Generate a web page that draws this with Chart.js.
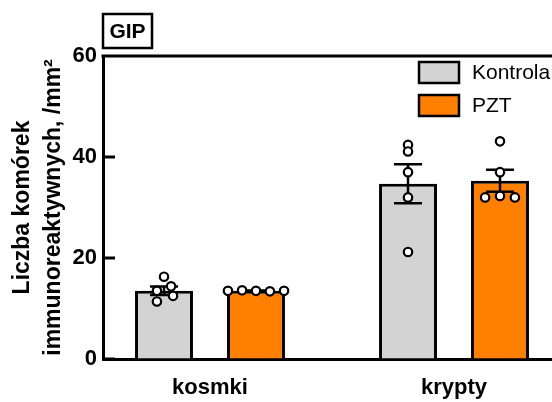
<!DOCTYPE html>
<html>
<head>
<meta charset="utf-8">
<script src="https://cdn.jsdelivr.net/npm/chart.js@4"></script>
<style>
  html, body { margin: 0; padding: 0; background: #fff; overflow: hidden; }
  canvas { display: block; }
</style>
</head>
<body>
<canvas id="chart" width="552" height="402"></canvas>
<script>
// dane
const categories = ["kosmki", "krypty"];
const groupLabels = ["Kontrola", "PZT"];
const meanKontrola = [13.5, 34.7];
const meanPZT = [13.5, 35.3];
const semKontrola = [0.85, 3.85];
const semPZT = [0.05, 2.2];
const pointsKontrola = [
  [16.3, 14.4, 13.5, 12.5, 11.4],
  [42.4, 41.1, 37.0, 32.0, 21.2],
];
const pointsPZT = [
  [13.5, 13.6, 13.5, 13.4, 13.5],
  [43.1, 37.0, 32.0, 32.3, 32.0],
];
const yTicks = [0, 20, 40, 60];
const yTitle = ["Liczba komórek", "immunoreaktywnych, /mm²"];
const panelLabel = "GIP";

// rozrzut punktów w poziomie (ułamek szerokości kategorii) - tylko wygląd
const jitterKontrola = [
  [0, 0.029, -0.029, 0.037, -0.029],
  [0, 0, 0, 0, 0],
];
const jitterPZT = [
  [-0.115, -0.057, 0, 0.057, 0.115],
  [0, 0, -0.061, 0, 0.061],
];

const CAT_PCT = 0.754;
const BAR_PCT = 0.63;
const colors = ["#d3d3d3", "#ff7f00"];
const FONT = "'Liberation Sans', Arial, sans-serif";

function barData(means) {
  return means.map((m, i) => ({ x: i, y: m }));
}

function pointData(points, jitter, dsIndex) {
  let out = [];
  points.forEach((vals, cat) => {
    let center = cat + (dsIndex - 0.5) * CAT_PCT / 2;
    vals.forEach((v, k) => out.push({ x: center + jitter[cat][k], y: v }));
  });
  return out;
}

const semByDataset = [semKontrola, semPZT];
const meanByDataset = [meanKontrola, meanPZT];

// słupki błędu (SEM)
const errorBars = {
  id: "errorBars",
  afterDatasetDraw(chart, args) {
    if (args.meta.type !== "bar") return;
    const ctx = chart.ctx;
    const y = chart.scales.y;
    const i = args.index;
    ctx.save();
    ctx.strokeStyle = "#000";
    ctx.lineWidth = 2.5;
    args.meta.data.forEach((el, j) => {
      const m = meanByDataset[i][j], s = semByDataset[i][j];
      const top = y.getPixelForValue(m + s);
      const bot = y.getPixelForValue(m - s);
      ctx.beginPath();
      ctx.moveTo(el.x, top); ctx.lineTo(el.x, bot);
      ctx.moveTo(el.x - 14, top); ctx.lineTo(el.x + 14, top);
      ctx.moveTo(el.x - 14, bot); ctx.lineTo(el.x + 14, bot);
      ctx.stroke();
    });
    ctx.restore();
  },
};

// ramka, znaczniki osi, legenda, etykieta panelu
const decorations = {
  id: "decorations",
  afterDraw(chart) {
    const ctx = chart.ctx;
    const area = chart.chartArea;
    const y = chart.scales.y;
    ctx.save();
    ctx.strokeStyle = "#000";
    ctx.lineWidth = 3;
    ctx.beginPath();
    ctx.moveTo(area.left - 1.5, area.top);
    ctx.lineTo(area.right, area.top);
    yTicks.forEach((t) => {
      const py = y.getPixelForValue(t);
      ctx.moveTo(area.left, py);
      ctx.lineTo(area.left + 12, py);
    });
    ctx.stroke();

    // legenda
    ctx.textBaseline = "middle";
    ctx.textAlign = "left";
    ctx.font = "21px " + FONT;
    chart.data.datasets.forEach((ds, i) => {
      if (ds.type !== "bar") return;
      const top = 62 + i * 33;
      ctx.fillStyle = ds.backgroundColor;
      ctx.fillRect(419, top, 40, 21);
      ctx.lineWidth = 2.5;
      ctx.strokeRect(419, top, 40, 21);
      ctx.fillStyle = "#000";
      ctx.fillText(ds.label, 472, top + 11);
    });

    // GIP
    ctx.lineWidth = 2.5;
    ctx.strokeRect(103, 14, 49, 34);
    ctx.font = "bold 21px " + FONT;
    ctx.textAlign = "center";
    ctx.fillText(panelLabel, 127.5, 32);
    ctx.restore();
  },
};

new Chart(document.getElementById("chart"), {
  data: {
    datasets: [
      {
        type: "bar",
        label: groupLabels[0],
        data: barData(meanKontrola),
        backgroundColor: colors[0],
        borderColor: "#000",
        borderWidth: 3,
        borderSkipped: "start",
        categoryPercentage: CAT_PCT,
        barPercentage: BAR_PCT,
        order: 1,
      },
      {
        type: "bar",
        label: groupLabels[1],
        data: barData(meanPZT),
        backgroundColor: colors[1],
        borderColor: "#000",
        borderWidth: 3,
        borderSkipped: "start",
        categoryPercentage: CAT_PCT,
        barPercentage: BAR_PCT,
        order: 1,
      },
      {
        type: "scatter",
        label: "pkt " + groupLabels[0],
        data: pointData(pointsKontrola, jitterKontrola, 0),
        backgroundColor: "#fff",
        borderColor: "#000",
        borderWidth: 2.2,
        pointRadius: 4.2,
        order: 0,
      },
      {
        type: "scatter",
        label: "pkt " + groupLabels[1],
        data: pointData(pointsPZT, jitterPZT, 1),
        backgroundColor: "#fff",
        borderColor: "#000",
        borderWidth: 2.2,
        pointRadius: 4.2,
        order: 0,
      },
    ],
  },
  options: {
    responsive: false,
    animation: false,
    events: [],
    layout: { autoPadding: false, padding: { top: 56, right: 0, bottom: 0, left: 0 } },
    plugins: {
      legend: { display: false },
      tooltip: { enabled: false },
    },
    scales: {
      x: {
        type: "linear",
        min: -0.4385,
        max: 1.4016,
        offset: false,
        bounds: "data",
        afterBuildTicks: (s) => { s.ticks = categories.map((c, i) => ({ value: i })); },
        afterFit: (s) => { s.height = 43; },
        grid: { offset: false, drawOnChartArea: false, drawTicks: false, tickLength: 0 },
        border: { display: true, color: "#000", width: 3 },
        ticks: {
          autoSkip: false,
          maxRotation: 0,
          padding: 16,
          color: "#000",
          font: { family: FONT, size: 22, weight: "bold" },
          callback: (v) => categories[v],
        },
      },
      y: {
        min: 0,
        max: 60,
        afterBuildTicks: (s) => { s.ticks = yTicks.map((v) => ({ value: v })); },
        afterFit: (s) => { s.width = 103; },
        grid: { drawOnChartArea: false, drawTicks: false, tickLength: 0 },
        border: { display: true, color: "#000", width: 3 },
        ticks: {
          padding: 6,
          color: "#000",
          font: { family: FONT, size: 22, weight: "bold" },
        },
        title: {
          display: true,
          text: yTitle,
          color: "#000",
          font: { family: FONT, size: 23, weight: "bold", lineHeight: 1.35 },
          padding: { top: 7, bottom: 0 },
        },
      },
    },
  },
  plugins: [errorBars, decorations],
});
</script>
</body>
</html>
